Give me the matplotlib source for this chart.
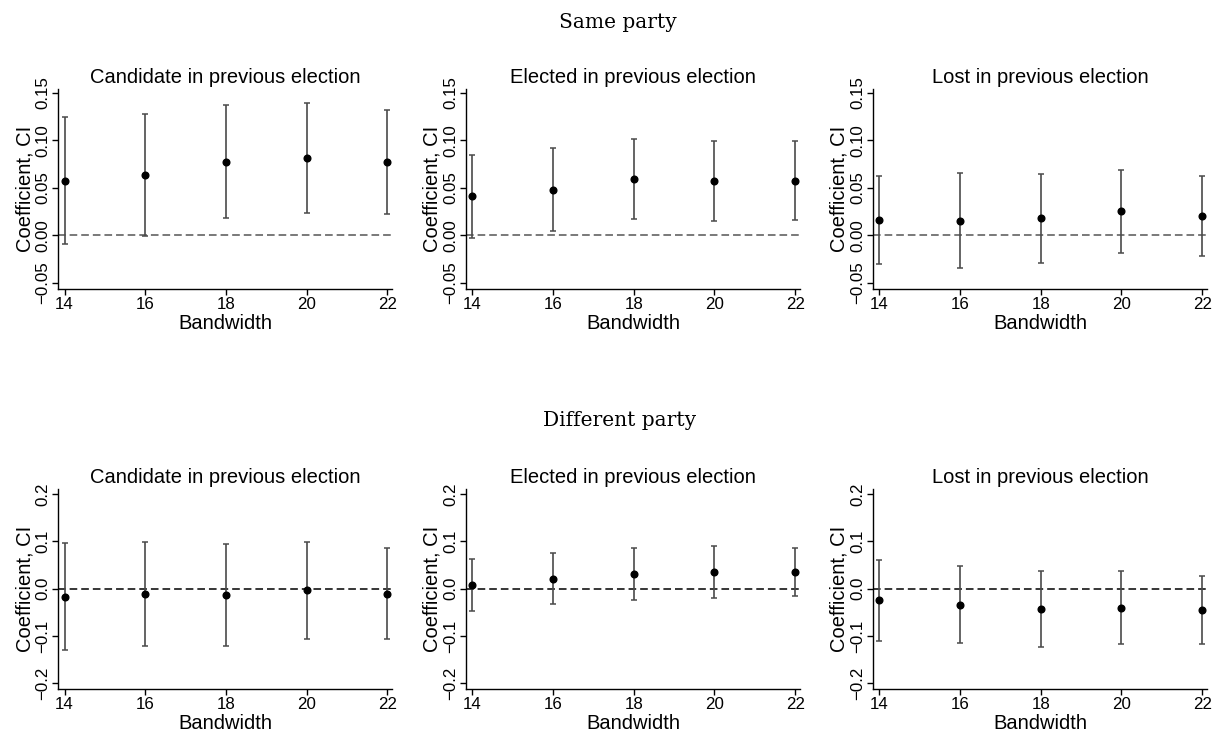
import matplotlib
matplotlib.use("Agg")
import matplotlib.pyplot as plt
from matplotlib.ticker import FuncFormatter
import numpy as np

plt.rcParams['font.family'] = ['Liberation Sans', 'DejaVu Sans']

bandwidth = [14, 16, 18, 20, 22]
panel_titles = ["Candidate in previous election", "Elected in previous election", "Lost in previous election"]

# same party
same_cand_coef = [0.057, 0.063, 0.077, 0.081, 0.077]
same_cand_lo = [-0.009, -0.001, 0.018, 0.023, 0.022]
same_cand_hi = [0.125, 0.128, 0.137, 0.139, 0.132]

same_elec_coef = [0.041, 0.048, 0.059, 0.057, 0.057]
same_elec_lo = [-0.003, 0.004, 0.017, 0.015, 0.016]
same_elec_hi = [0.085, 0.092, 0.101, 0.099, 0.099]

same_lost_coef = [0.016, 0.015, 0.018, 0.025, 0.020]
same_lost_lo = [-0.030, -0.035, -0.029, -0.019, -0.022]
same_lost_hi = [0.062, 0.066, 0.065, 0.069, 0.062]

# different party
diff_cand_coef = [-0.017, -0.011, -0.013, -0.004, -0.011]
diff_cand_lo = [-0.129, -0.122, -0.122, -0.107, -0.107]
diff_cand_hi = [0.097, 0.099, 0.095, 0.099, 0.086]

diff_elec_coef = [0.008, 0.021, 0.030, 0.035, 0.034]
diff_elec_lo = [-0.047, -0.032, -0.025, -0.020, -0.016]
diff_elec_hi = [0.062, 0.076, 0.085, 0.089, 0.085]

diff_lost_coef = [-0.025, -0.034, -0.044, -0.040, -0.045]
diff_lost_lo = [-0.110, -0.115, -0.123, -0.116, -0.116]
diff_lost_hi = [0.061, 0.048, 0.036, 0.036, 0.026]

same_ticks = [-0.05, 0.0, 0.05, 0.10, 0.15]
diff_ticks = [-0.2, -0.1, 0.0, 0.1, 0.2]


def fmt(decimals):
    return FuncFormatter(lambda v, p: ("%.*f" % (decimals, v)).replace("-", "\u2212"))


def draw_panel(ax, coef, lo, hi, title, yticks, ylim, decimals, zero_color):
    coef = np.array(coef)
    err = [coef - np.array(lo), np.array(hi) - coef]
    ax.axhline(0, color=zero_color, linestyle=(0, (5, 2.6)), linewidth=1.1, zorder=1)
    ax.errorbar(bandwidth, coef, yerr=err, fmt='o', color='black', markersize=4.8,
                ecolor='#4a4a4a', elinewidth=1.2, capsize=2.5, capthick=1.1, zorder=3)
    ax.set_xlim(13.84, 22.13)
    ax.set_ylim(*ylim)
    ax.set_xticks(bandwidth)
    ax.set_yticks(yticks)
    ax.yaxis.set_major_formatter(fmt(decimals))
    ax.spines['top'].set_visible(False)
    ax.spines['right'].set_visible(False)
    ax.spines['left'].set_linewidth(1.0)
    ax.spines['bottom'].set_linewidth(1.0)
    ax.tick_params(axis='both', direction='out', length=4, width=1.0, labelsize=12.2, pad=1.5)
    for lab in ax.get_yticklabels():
        lab.set_rotation(90)
        lab.set_verticalalignment('center')
    ax.set_title(title, fontsize=14.5, pad=4)
    ax.set_xlabel("Bandwidth", fontsize=14.5, labelpad=1.5)
    ax.set_ylabel("Coefficient, CI", fontsize=14.5, labelpad=1)


fig = plt.figure(figsize=(12.17, 7.33), dpi=100)

lefts = [0.0477, 0.3829, 0.7173]
width = 0.2748
top_row = 0.6057
bottom_row = 0.0600
height = 0.2735

same = [(same_cand_coef, same_cand_lo, same_cand_hi),
        (same_elec_coef, same_elec_lo, same_elec_hi),
        (same_lost_coef, same_lost_lo, same_lost_hi)]
diff = [(diff_cand_coef, diff_cand_lo, diff_cand_hi),
        (diff_elec_coef, diff_elec_lo, diff_elec_hi),
        (diff_lost_coef, diff_lost_lo, diff_lost_hi)]

for i in range(3):
    ax = fig.add_axes([lefts[i], top_row, width, height])
    c, l, h = same[i]
    draw_panel(ax, c, l, h, panel_titles[i], same_ticks, (-0.0567, 0.1545), 2, '#555555')

    ax = fig.add_axes([lefts[i], bottom_row, width, height])
    c, l, h = diff[i]
    draw_panel(ax, c, l, h, panel_titles[i], diff_ticks, (-0.212, 0.211), 1, 'black')

fig.text(0.508, 1 - 22 / 733, "Same party", ha='center', va='center',
         fontsize=14.5, family=['DejaVu Serif'])
fig.text(0.509, 1 - 420 / 733, "Different party", ha='center', va='center',
         fontsize=14.5, family=['DejaVu Serif'])

fig.savefig("out.png", dpi=100)
